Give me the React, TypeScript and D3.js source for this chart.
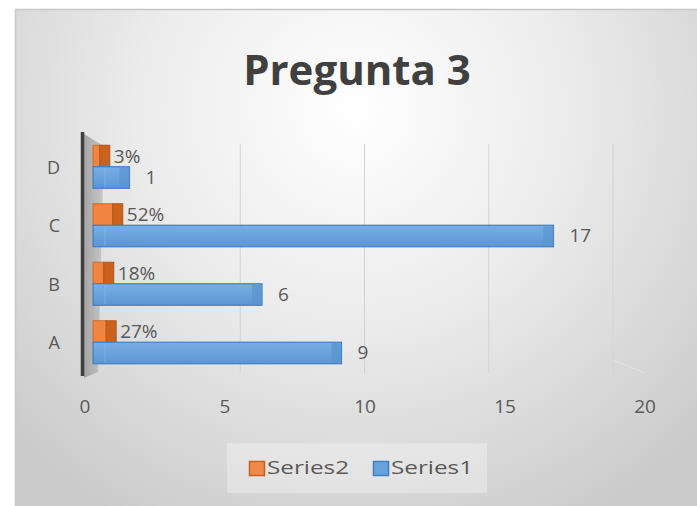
import React from "react";
import * as d3 from "d3";

// chart data
const categories = ["A", "B", "C", "D"];
const series1 = [9, 6, 17, 1];
const series2 = [0.27, 0.18, 0.52, 0.03];
const series2Labels = ["27%", "18%", "52%", "3%"];
const xTicks = [0, 5, 10, 15, 20];
const seriesNames = ["Series2", "Series1"];

const W = 697;
const H = 506;
const FONT = "'Open Sans', 'Liberation Sans', sans-serif";
const TXT = "#595959";

export default function App() {
  // front plane (bars), back wall (gridlines), and tick label positions
  const xFront = d3.scaleLinear().domain([0, 20]).range([93, 623]);
  const xBack = d3.scaleLinear().domain([0, 20]).range([116, 613]);
  const xTick = d3.scaleLinear().domain([0, 20]).range([85, 645]);

  const y = d3.scaleBand().domain([...categories].reverse()).range([138, 372]);
  const ySeries = d3.scaleBand().domain(seriesNames).range([-22, 21]);
  const cap = 10;

  const bars = categories.flatMap((c, i) => [
    { cat: c, s: "Series2", v: series2[i], label: series2Labels[i] },
    { cat: c, s: "Series1", v: series1[i], label: String(series1[i]) },
  ]);

  const center = (c: string) => (y(c) as number) + y.bandwidth() / 2;

  return (
    <svg width={W} height={H} style={{ position: "absolute", left: 0, top: 0 }}>
      <defs>
        <radialGradient id="bg" cx="355" cy="110" r="470" gradientUnits="userSpaceOnUse">
          <stop offset="0" stopColor="#ffffff" />
          <stop offset="0.45" stopColor="#ececec" />
          <stop offset="1" stopColor="#cbcbcb" />
        </radialGradient>
        <linearGradient id="blue" x1="0" y1="0" x2="0" y2="1">
          <stop offset="0" stopColor="#79aee3" />
          <stop offset="0.5" stopColor="#6aa3dc" />
          <stop offset="1" stopColor="#5b96d3" />
        </linearGradient>
        <linearGradient id="wall" x1="0" y1="0" x2="1" y2="0">
          <stop offset="0" stopColor="#9a9a9a" />
          <stop offset="1" stopColor="#c4c4c4" />
        </linearGradient>
      </defs>
      <rect width={W} height={H} fill="#ffffff" />
      <rect x={15} y={9} width={W - 15} height={H - 9} fill="url(#bg)" />
      <line x1={15} x2={W} y1={9.5} y2={9.5} stroke="#c6c6c6" strokeWidth={1.5} />
      <line x1={15.5} x2={15.5} y1={9} y2={H} stroke="#c9c9c9" strokeWidth={1.5} />

      <text x={357} y={85} textAnchor="middle" fontFamily={FONT} fontWeight={700} fontSize={42} fill="#404040">
        Pregunta 3
      </text>

      {/* back wall gridlines */}
      {xTicks.slice(1).map((t) => (
        <line key={t} x1={xBack(t)} x2={xBack(t)} y1={144} y2={373} stroke="#d2d2d2" strokeWidth={1} />
      ))}
      <line x1={xBack(20)} y1={360} x2={xTick(20)} y2={373} stroke="#e2e2e2" />

      {/* side wall */}
      <polygon points="84,134 104,146 98,372 84,378" fill="url(#wall)" opacity={0.85} />
      <line x1={82.5} x2={82.5} y1={132} y2={376} stroke="#3f3f3f" strokeWidth={3.5} />

      {bars.map((b) => {
        const c = center(b.cat);
        const y0 = c + (ySeries(b.s) as number);
        const h = ySeries.bandwidth();
        const x0 = xFront(0);
        const x1 = xFront(b.v);
        const isBlue = b.s === "Series1";
        return (
          <g key={b.cat + b.s}>
            {isBlue ? (
              <>
                <rect x={x0} y={y0} width={x1 - x0 + cap} height={h} fill="url(#blue)" stroke="#3f7fc4" strokeWidth={1.2} />
                <rect x={x1} y={y0 + 1} width={cap} height={h - 2} fill="#5a94cf" opacity={0.7} />
                <line x1={x0 + 12} x2={x0 + 12} y1={y0 + 1} y2={y0 + h - 1} stroke="#8fbbe8" opacity={0.6} />
              </>
            ) : (
              <>
                <rect x={x0} y={y0} width={x1 - x0 + 6} height={h} fill="#ef8540" stroke="#d06a25" />
                <rect x={x1 + 6} y={y0} width={cap} height={h} fill="#c8621c" stroke="#b5561a" />
              </>
            )}
            <text
              x={isBlue ? x1 + cap + 16 : x1 + 6 + cap + 4}
              y={isBlue ? c + 10 : c - 11}
              dy="0.35em"
              fontFamily={FONT}
              fontSize={19}
              fill={TXT}
            >
              {b.label}
            </text>
          </g>
        );
      })}

      {/* category labels */}
      {categories.map((c) => (
        <text key={c} x={60} y={center(c)} dy="0.35em" textAnchor="end" fontFamily={FONT} fontSize={18} fill={TXT}>
          {c}
        </text>
      ))}

      {/* x tick labels */}
      {xTicks.map((t) => (
        <text key={t} x={xTick(t)} y={413} textAnchor="middle" fontFamily={FONT} fontSize={19} fill={TXT}>
          {t}
        </text>
      ))}

      {/* legend */}
      <rect x={227} y={443} width={260} height={50} fill="#ffffff" opacity={0.3} />
      {[
        { name: "Series2", fill: "#ef8a48", stroke: "#c8621c", x: 249 },
        { name: "Series1", fill: "#6aa3dc", stroke: "#3f7fc4", x: 373 },
      ].map((l) => (
        <g key={l.name}>
          <rect x={l.x + 0.5} y={461.5} width={15} height={14} fill={l.fill} stroke={l.stroke} strokeWidth={1.5} />
          <text x={l.x + 18} y={468} dy="0.35em" fontFamily={FONT} fontSize={18} fill={TXT} textLength={82} lengthAdjust="spacingAndGlyphs">
            {l.name}
          </text>
        </g>
      ))}
    </svg>
  );
}
